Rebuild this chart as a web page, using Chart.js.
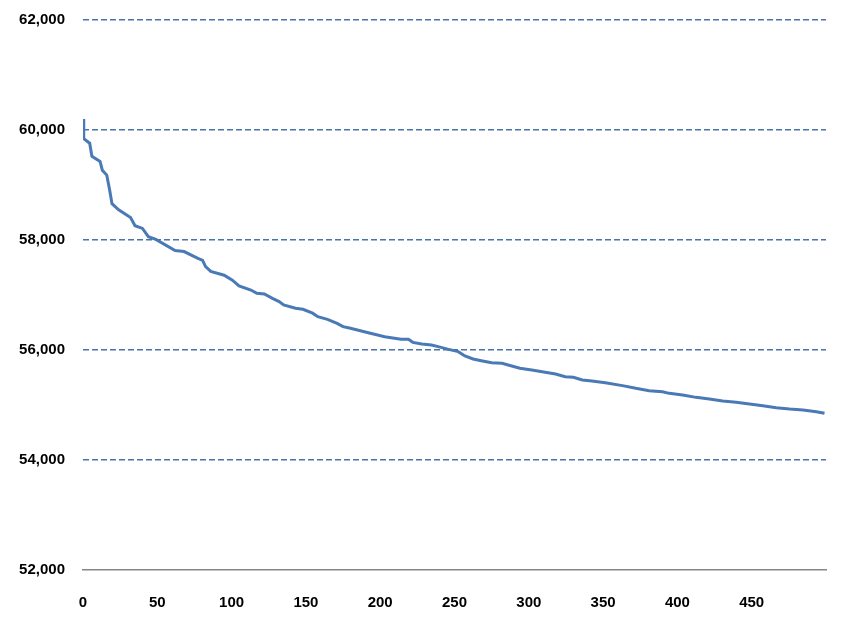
<!DOCTYPE html>
<html>
<head>
<meta charset="utf-8">
<title>Chart</title>
<script src="https://cdn.jsdelivr.net/npm/chart.js@4/dist/chart.umd.min.js"></script>
<style>
  html, body { margin: 0; padding: 0; background: #fff; }
  #wrap { width: 854px; height: 630px; }
</style>
</head>
<body>
<div id="wrap"><canvas id="lineChart"></canvas></div>
<script>
// values
var iterations = [0, 0.5, 4.5, 6, 11.5, 13, 16, 18, 19.5, 24, 32, 35, 40, 44, 49, 62, 68, 77, 80.5, 82.5, 86,
  95, 100.5, 105, 113, 117, 122, 127.5, 132, 135, 143, 148, 154.5, 158, 164.5, 171, 175, 180, 192, 203,
  214, 219, 222, 228, 234.5, 239, 246, 252.5, 257, 262.5, 268, 275, 282, 288.5, 294, 302, 309, 318,
  324.5, 330, 336, 342.5, 351.5, 363, 372, 381, 390, 394.5, 403.5, 412.5, 421.5, 430.5, 439.5, 448.5,
  457.5, 466.5, 475.5, 484.5, 493.5, 499];
var costs = [60200, 59840, 59760, 59520, 59430, 59270, 59180, 58900, 58660, 58550, 58410, 58260, 58210, 58060, 58010,
  57810, 57790, 57670, 57630, 57515, 57430,
  57360, 57270, 57165, 57090, 57030, 57018, 56940, 56880, 56820, 56760, 56740, 56670, 56606, 56558, 56485, 56424, 56394, 56315, 56242,
  56194, 56194, 56139, 56109, 56091, 56061, 56012, 55970, 55891, 55836, 55806, 55770, 55758, 55709, 55667, 55636, 55606, 55564,
  55515, 55503, 55455, 55436, 55406, 55352, 55303, 55261, 55242, 55212, 55182, 55139, 55109, 55073, 55048, 55018,
  54988, 54952, 54927, 54909, 54879, 54850];
var yTicks = [52000, 54000, 56000, 58000, 60000, 62000];
var xTicks = [0, 50, 100, 150, 200, 250, 300, 350, 400, 450];

var points = iterations.map(function (x, i) { return { x: x, y: costs[i] }; });

var tickFont = { family: "'Liberation Sans', Arial, sans-serif", size: 15, weight: 'bold' };

new Chart(document.getElementById('lineChart').getContext('2d'), {
  type: 'line',
  data: {
    datasets: [{
      label: 'cost',
      data: points,
      borderColor: '#4a7ab5',
      borderWidth: 3,
      pointRadius: 0,
      tension: 0,
      fill: false
    }]
  },
  options: {
    responsive: true,
    maintainAspectRatio: false,
    animation: false,
    layout: { padding: { top: 20, right: 28, bottom: 0, left: 0 } },
    plugins: { legend: { display: false }, tooltip: { enabled: false } },
    scales: {
      x: {
        type: 'linear',
        min: 0,
        max: 500,
        afterBuildTicks: function (scale) {
          scale.ticks = xTicks.map(function (v) { return { value: v }; });
        },
        afterFit: function (scale) {
          scale.height = 60;
          scale.paddingLeft = 0;
          scale.paddingRight = 0;
        },
        grid: { display: false, drawTicks: false },
        border: { display: true, color: '#868686', width: 1.5 },
        ticks: { color: '#000', font: tickFont, padding: 24, maxRotation: 0 }
      },
      y: {
        min: 52000,
        max: 62000,
        afterBuildTicks: function (scale) {
          scale.ticks = yTicks.map(function (v) { return { value: v }; });
        },
        afterFit: function (scale) {
          scale.width = 83;
          scale.paddingTop = 0;
          scale.paddingBottom = 0;
        },
        grid: {
          drawTicks: false,
          lineWidth: 1.5,
          color: function (ctx) { return ctx.tick && ctx.tick.value === 52000 ? 'rgba(0,0,0,0)' : '#4a73a6'; }
        },
        border: { display: false, dash: [6, 3] },
        ticks: {
          color: '#000',
          font: tickFont,
          padding: 18,
          callback: function (v) { return v.toLocaleString('en-US'); }
        }
      }
    }
  }
});
</script>
</body>
</html>
